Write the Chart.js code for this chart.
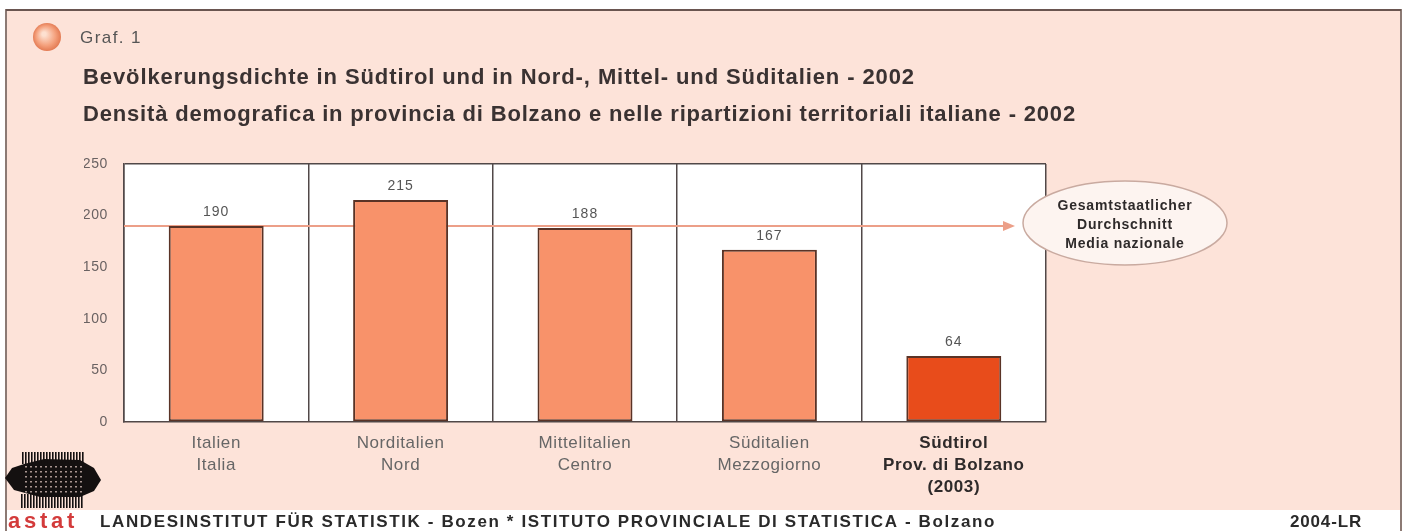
<!DOCTYPE html>
<html>
<head>
<meta charset="utf-8">
<script src="https://cdn.jsdelivr.net/npm/chart.js@4/dist/chart.umd.min.js"></script>
<style>
  html, body { margin: 0; padding: 0; background: #fff; }
  canvas { display: block; }
</style>
</head>
<body>
<canvas id="chart" width="1407" height="531"></canvas>
<script>
// Daten
const categories = [
    ['Italien', 'Italia'],
    ['Norditalien', 'Nord'],
    ['Mittelitalien', 'Centro'],
    ['Süditalien', 'Mezzogiorno'],
    ['Südtirol', 'Prov. di Bolzano', '(2003)']
];
const density = [190, 215, 188, 167, 64];
const nationalAverage = 190;
const averageLabel = ['Gesamtstaatlicher', 'Durchschnitt', 'Media nazionale'];
const yMax = 250;
const yStep = 50;

const graphNo = 'Graf. 1';
const titleDe = 'Bevölkerungsdichte in Südtirol und in Nord-, Mittel- und Süditalien - 2002';
const titleIt = 'Densità demografica in provincia di Bolzano e nelle ripartizioni territoriali italiane - 2002';
const footerText = 'LANDESINSTITUT FÜR STATISTIK - Bozen * ISTITUTO PROVINCIALE DI STATISTICA - Bolzano';
const footerCode = '2004-LR';

// Farben
const panelColor = '#fde3d9';
const barColor = '#f8926a';
const barHighlight = '#e84c1b';
const lineColor = '#ec9f88';
const gridColor = '#514848';
const FONT = '"Liberation Sans", Arial, sans-serif';

Chart.defaults.font.family = FONT;

// Text mit Sperrung auf eine bestimmte Breite bringen
function spacedText(ctx, text, x, y, width) {
    ctx.letterSpacing = '0px';
    const w = ctx.measureText(text).width;
    ctx.letterSpacing = ((width - w) / text.length) + 'px';
    ctx.fillText(text, x, y);
    ctx.letterSpacing = '0px';
}

function drawLogo(ctx) {
    ctx.save();
    // schwarzer Umriss
    ctx.fillStyle = '#141010';
    ctx.beginPath();
    ctx.moveTo(24, 464);
    ctx.lineTo(44, 459);
    ctx.lineTo(80, 460);
    ctx.lineTo(94, 468);
    ctx.lineTo(101, 480);
    ctx.lineTo(94, 491);
    ctx.lineTo(80, 497);
    ctx.lineTo(40, 497);
    ctx.lineTo(14, 490);
    ctx.lineTo(5, 478);
    ctx.lineTo(12, 468);
    ctx.closePath();
    ctx.fill();
    // Streifen oben und unten
    for (let x = 22; x <= 82; x += 3) {
        ctx.fillRect(x, 452, 1.6, 12);
        ctx.fillRect(x - 1, 494, 1.6, 14);
    }
    // helle Punkte im Raster
    ctx.fillStyle = '#a89590';
    for (let y = 466; y < 494; y += 5) {
        for (let x = 25; x < 84; x += 5) {
            ctx.fillRect(x, y, 2, 1.5);
        }
    }
    ctx.fillStyle = '#d33b3b';
    ctx.font = 'bold 22px ' + FONT;
    ctx.textBaseline = 'middle';
    ctx.textAlign = 'left';
    spacedText(ctx, 'astat', 8, 522, 70);
    ctx.restore();
}

const framePlugin = {
    id: 'frame',
    beforeDraw(chart) {
        const ctx = chart.ctx;
        const area = chart.chartArea;
        ctx.save();
        ctx.fillStyle = '#fff';
        ctx.fillRect(0, 0, chart.width, chart.height);
        ctx.fillStyle = panelColor;
        ctx.fillRect(6, 10, 1395, 500);

        // Rahmen
        ctx.strokeStyle = '#8c7a74';
        ctx.lineWidth = 2;
        ctx.beginPath();
        ctx.moveTo(6, 531);
        ctx.lineTo(6, 10);
        ctx.lineTo(1401, 10);
        ctx.lineTo(1401, 531);
        ctx.stroke();
        ctx.strokeStyle = '#6a5550';
        ctx.beginPath();
        ctx.moveTo(6, 10);
        ctx.lineTo(1401, 10);
        ctx.stroke();

        // Symbol
        const g = ctx.createRadialGradient(44, 34, 2, 47, 37, 15);
        g.addColorStop(0, '#fde0d0');
        g.addColorStop(0.6, '#f4a07c');
        g.addColorStop(1, '#e0744c');
        ctx.fillStyle = g;
        ctx.beginPath();
        ctx.arc(47, 37, 14, 0, Math.PI * 2);
        ctx.fill();

        // Überschriften
        ctx.textBaseline = 'middle';
        ctx.textAlign = 'left';
        ctx.fillStyle = '#555';
        ctx.font = '17px ' + FONT;
        spacedText(ctx, graphNo, 80, 38, 62);
        ctx.fillStyle = '#3a3232';
        ctx.font = 'bold 22px ' + FONT;
        spacedText(ctx, titleDe, 83, 78, 832);
        spacedText(ctx, titleIt, 83, 115, 993);

        // Fußzeile
        ctx.fillStyle = '#2a2a2a';
        ctx.font = 'bold 17px ' + FONT;
        spacedText(ctx, footerText, 100, 522, 896);
        spacedText(ctx, footerCode, 1290, 522, 72);
        drawLogo(ctx);

        // Zeichenfläche
        ctx.fillStyle = '#fff';
        ctx.fillRect(area.left, area.top, area.right - area.left, area.bottom - area.top);
        ctx.restore();
        ctx.letterSpacing = '0.6px';
    },
    beforeDatasetsDraw(chart) {
        const ctx = chart.ctx;
        const area = chart.chartArea;
        const y = chart.scales.y.getPixelForValue(nationalAverage);
        const tip = area.right - 31;
        ctx.save();
        ctx.strokeStyle = lineColor;
        ctx.lineWidth = 2;
        ctx.beginPath();
        ctx.moveTo(area.left, y);
        ctx.lineTo(tip - 10, y);
        ctx.stroke();
        ctx.fillStyle = lineColor;
        ctx.beginPath();
        ctx.moveTo(tip, y);
        ctx.lineTo(tip - 12, y - 5);
        ctx.lineTo(tip - 12, y + 5);
        ctx.closePath();
        ctx.fill();
        ctx.restore();
    },
    afterDatasetsDraw(chart) {
        const ctx = chart.ctx;
        const meta = chart.getDatasetMeta(0);
        ctx.save();
        ctx.fillStyle = '#555';
        ctx.font = '14px ' + FONT;
        ctx.textAlign = 'center';
        ctx.textBaseline = 'middle';
        ctx.letterSpacing = '1px';
        meta.data.forEach((bar, i) => {
            ctx.fillText(String(density[i]), bar.x, bar.y - 14);
        });
        ctx.restore();
    },
    afterDraw(chart) {
        const ctx = chart.ctx;
        const area = chart.chartArea;
        const y = chart.scales.y.getPixelForValue(nationalAverage);
        const cx = area.right + 79;
        const cy = y - 3;
        ctx.save();
        ctx.letterSpacing = '0px';
        ctx.fillStyle = '#fdf4f0';
        ctx.strokeStyle = '#c9aaa0';
        ctx.lineWidth = 1.5;
        ctx.beginPath();
        ctx.ellipse(cx, cy, 102, 42, 0, 0, Math.PI * 2);
        ctx.fill();
        ctx.stroke();
        ctx.fillStyle = '#2e2a2a';
        ctx.font = 'bold 14px ' + FONT;
        ctx.textAlign = 'center';
        ctx.textBaseline = 'middle';
        ctx.letterSpacing = '0.8px';
        averageLabel.forEach((line, i) => {
            ctx.fillText(line, cx, cy - 17 + i * 19);
        });
        ctx.restore();
    }
};

new Chart(document.getElementById('chart'), {
    type: 'bar',
    data: {
        labels: categories,
        datasets: [{
            data: density,
            backgroundColor: density.map((v, i) => i === density.length - 1 ? barHighlight : barColor),
            borderColor: '#5a3326',
            borderWidth: 2,
            borderSkipped: false,
            barPercentage: 0.515,
            categoryPercentage: 1
        }]
    },
    options: {
        responsive: false,
        animation: false,
        devicePixelRatio: 1,
        layout: { padding: { left: 84, top: 164, right: 361, bottom: 0 } },
        plugins: {
            legend: { display: false },
            tooltip: { enabled: false }
        },
        scales: {
            x: {
                afterFit: scale => { scale.height = 109; },
                grid: { offset: true, color: gridColor, lineWidth: 1.5, drawTicks: false },
                border: { color: gridColor, width: 1.5 },
                ticks: {
                    padding: 10,
                    color: ctx => ctx.index === categories.length - 1 ? '#2e2a2a' : '#666',
                    font: ctx => ({
                        size: 17,
                        lineHeight: 1.3,
                        weight: ctx.index === categories.length - 1 ? 'bold' : 'normal'
                    })
                }
            },
            y: {
                min: 0,
                max: yMax,
                afterFit: scale => { scale.width = 40; },
                grid: {
                    drawTicks: false,
                    lineWidth: 1.5,
                    color: ctx => ctx.tick && ctx.tick.value === yMax ? gridColor : 'rgba(0,0,0,0)'
                },
                border: { color: gridColor, width: 1.5 },
                ticks: {
                    stepSize: yStep,
                    padding: 16,
                    color: '#6a6262',
                    font: { size: 14 }
                }
            }
        }
    },
    plugins: [framePlugin]
});
</script>
</body>
</html>
